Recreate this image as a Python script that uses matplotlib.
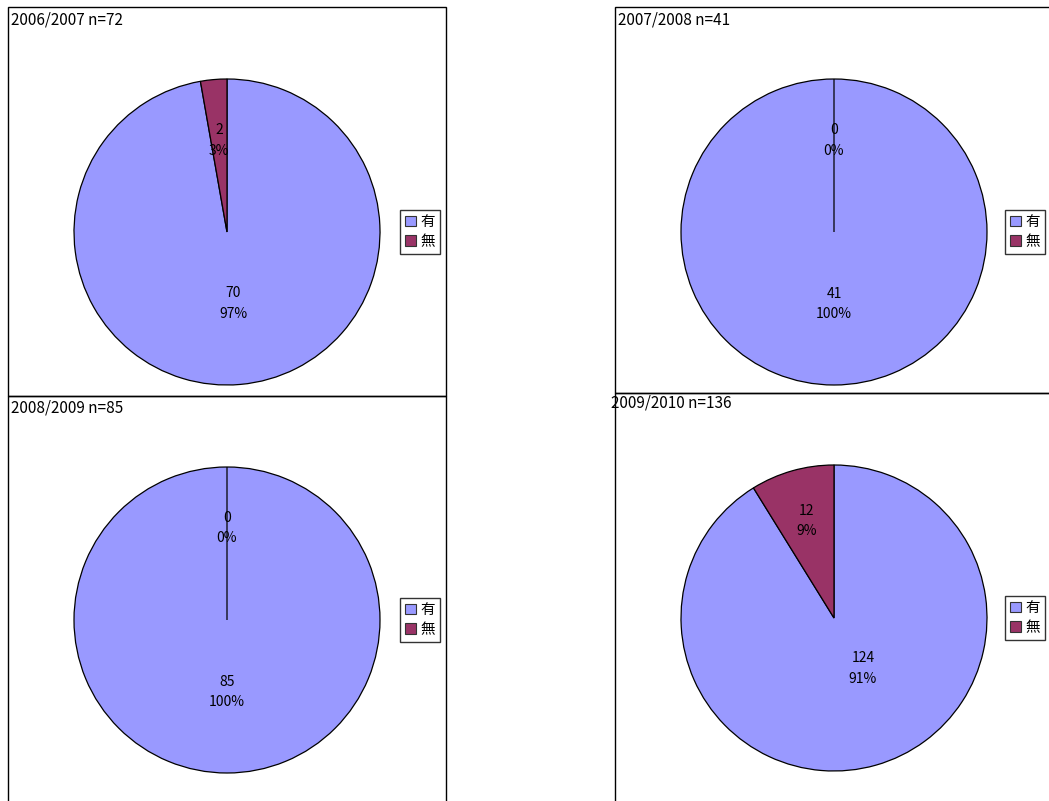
import math
import matplotlib
matplotlib.use("Agg")
import matplotlib.pyplot as plt
from matplotlib.patches import Rectangle, Patch

plt.rcParams['font.family'] = ['Noto Sans CJK JP', 'DejaVu Sans']

# ---- data ----
categories = ["有", "無"]
panel_titles = ["2006/2007 n=72", "2007/2008 n=41", "2008/2009 n=85", "2009/2010 n=136"]
values_2006 = [70, 2]
values_2007 = [41, 0]
values_2008 = [85, 0]
values_2009 = [124, 12]
percent_labels_2006 = ["97%", "3%"]
percent_labels_2007 = ["100%", "0%"]
percent_labels_2008 = ["100%", "0%"]
percent_labels_2009 = ["91%", "9%"]

all_values = [values_2006, values_2007, values_2008, values_2009]
all_pcts = [percent_labels_2006, percent_labels_2007, percent_labels_2008, percent_labels_2009]

# ---- style / layout (pixels) ----
W, H = 1049, 801
colors = ["#9999FF", "#993366"]
# panel box: (left, top, right, bottom)
boxes = [(8, 7, 446, 396), (615, 7, 1053, 393), (8, 396, 446, 810), (615, 393, 1053, 810)]
title_pos = [(11, 20), (618, 20), (11, 408), (611, 403)]
centers = [(227, 232), (834, 232), (227, 620), (834, 618)]
radius = 153
legend_centers = [(420, 232), (1025, 232), (420, 620), (1025, 618)]
label_dist = [(0.47, 0.60), (0.47, 0.60), (0.47, 0.60), (0.38, 0.66)]
label_angle_shift = [(0, 0), (0, 0), (0, 0), (14, 0)]

fig = plt.figure(figsize=(W / 100, H / 100), dpi=100)
fig.patch.set_facecolor("white")

def fx(x):
    return x / W

def fy(y):
    return 1 - y / H

for i in range(4):
    l, t, r, b = boxes[i]
    fig.patches.append(Rectangle((fx(l), fy(b)), fx(r) - fx(l), fy(t) - fy(b),
                                 transform=fig.transFigure, fill=False,
                                 edgecolor="black", linewidth=1.0, zorder=0))
    tx, ty = title_pos[i]
    fig.text(fx(tx), fy(ty), panel_titles[i], fontsize=11, ha="left", va="center")

    cx, cy = centers[i]
    ax = fig.add_axes([fx(cx - radius), fy(cy + radius), 2 * radius / W, 2 * radius / H])
    vals = all_values[i]
    wedges, _ = ax.pie(vals, colors=colors, startangle=90, counterclock=False,
                       radius=1.0, wedgeprops=dict(edgecolor="black", linewidth=0.9),
                       normalize=True)
    ax.set_xlim(-1, 1)
    ax.set_ylim(-1, 1)
    ax.set_aspect("equal")
    ax.axis("off")
    for j, w in enumerate(wedges):
        mid = math.radians((w.theta1 + w.theta2) / 2 + label_angle_shift[i][j])
        d = label_dist[i][j]
        ax.text(d * math.cos(mid), d * math.sin(mid), f"{vals[j]}\n{all_pcts[i][j]}",
                ha="center", va="center", fontsize=10, linespacing=1.6)

    lx, ly = legend_centers[i]
    handles = [Patch(facecolor=colors[k], edgecolor="#333333", linewidth=0.8, label=categories[k])
               for k in range(2)]
    fig.legend(handles=handles, loc="center", bbox_to_anchor=(fx(lx), fy(ly)),
               frameon=True, fancybox=False, edgecolor="black", fontsize=10.5,
               handlelength=0.75, handleheight=0.75, handletextpad=0.35,
               borderpad=0.35, labelspacing=0.4, borderaxespad=0)

fig.savefig("out.png", dpi=100, facecolor="white")
